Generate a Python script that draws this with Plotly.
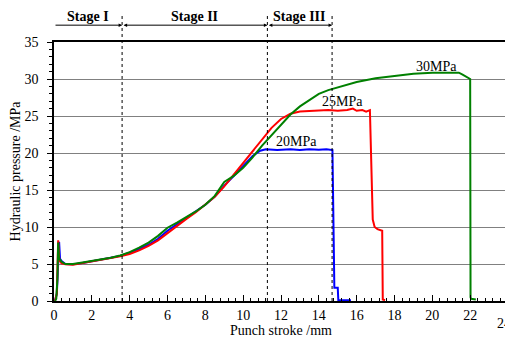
import plotly.graph_objects as go

# ---- data ----
x_20 = [0.05, 0.15, 0.22, 0.27, 0.32, 0.40, 0.60, 1.0, 1.5, 2.0, 2.5, 3.0, 3.5, 4.0, 4.5, 5.0,
        5.5, 6.0, 6.5, 7.0, 7.5, 8.0, 8.5, 9.0, 9.5, 10.0, 10.5, 10.9, 11.2, 11.8, 12.5, 13.0,
        13.5, 14.0, 14.4, 14.72, 14.78, 14.82, 15.0, 15.03, 15.7]
y_20 = [0.0, 1.0, 5.0, 8.0, 5.7, 5.4, 5.0, 4.95, 5.15, 5.35, 5.55, 5.85, 6.1, 6.5, 7.0, 7.6,
        8.4, 9.5, 10.4, 11.2, 12.1, 13.0, 14.1, 15.6, 16.9, 18.3, 19.6, 20.3, 20.5, 20.4, 20.5, 20.4,
        20.5, 20.45, 20.5, 20.4, 10.0, 1.8, 1.8, 0.1, 0.1]

x_25 = [0.05, 0.15, 0.22, 0.28, 0.40, 0.60, 1.0, 1.5, 2.0, 2.5, 3.0, 3.5, 4.0, 4.5, 5.0,
        5.5, 6.0, 6.5, 7.0, 7.5, 8.0, 8.5, 9.0, 9.5, 10.0, 10.5, 11.0, 11.5, 12.0, 12.5, 13.0,
        13.5, 14.0, 14.5, 15.0, 15.5, 15.8, 16.0, 16.3, 16.5, 16.7, 16.75, 16.85, 16.95, 17.1,
        17.35, 17.38, 17.5]
y_25 = [0.0, 1.0, 8.2, 5.5, 5.1, 4.95, 4.9, 5.1, 5.3, 5.5, 5.8, 6.05, 6.35, 6.85, 7.45,
        8.2, 9.2, 10.2, 11.1, 12.0, 13.0, 14.1, 15.5, 17.1, 18.6, 20.2, 21.9, 23.4, 24.6, 25.3, 25.6,
        25.7, 25.7, 25.8, 25.7, 25.8, 26.0, 25.7, 25.8, 25.6, 25.8, 20.0, 11.0, 10.0, 9.7,
        9.5, 0.2, 0.1]

x_30 = [0.05, 0.12, 0.18, 0.22, 0.26, 0.32, 0.40, 0.60, 1.0, 1.5, 2.0, 2.5, 3.0, 3.5, 4.0, 4.5,
        5.0, 5.5, 6.0, 6.5, 7.0, 7.5, 8.0, 8.5, 9.0, 9.5, 10.0, 10.5, 11.0, 11.5, 12.0, 12.5,
        13.0, 13.5, 14.0, 14.5, 15.0, 15.5, 16.0, 17.0, 18.0, 19.0, 20.0, 21.0, 21.4, 21.6,
        22.0, 22.02, 22.05, 22.3]
y_30 = [0.0, 0.3, 3.0, 7.9, 5.8, 5.5, 5.3, 5.0, 5.0, 5.2, 5.4, 5.6, 5.85, 6.15, 6.6, 7.2,
        7.9, 8.8, 9.9, 10.6, 11.3, 12.1, 13.0, 14.2, 16.1, 16.9, 18.0, 19.4, 21.0, 22.4, 23.7, 25.2,
        26.3, 27.2, 28.0, 28.5, 28.9, 29.3, 29.6, 30.1, 30.4, 30.7, 30.85, 30.9, 30.85, 30.6,
        30.0, 0.5, 0.3, 0.2]

series_names = ["20MPa", "25MPa", "30MPa"]
series_colors = ["#0000ff", "#ff0000", "#008000"]
label_x = [12.83, 15.24, 20.24]
label_y = [21.6, 26.9, 31.7]

stage_names = ["Stage I", "Stage II", "Stage III"]
stage_bounds = [0.0, 3.6, 11.28, 14.7]

x_ticks = list(range(0, 25, 2))
x_tick_labels = ["0", "2", "4", "6", "8", "10", "12", "14", "16", "18", "20", "22", "24"]
y_ticks = list(range(0, 36, 5))

FONT = "Liberation Serif"

fig = go.Figure()
for xs, ys, name, col in zip([x_20, x_25, x_30], [y_20, y_25, y_30], series_names, series_colors):
    fig.add_trace(go.Scatter(x=xs, y=ys, mode="lines", name=name,
                             line=dict(color=col, width=2), showlegend=False))

# series labels
for name, lx, ly in zip(series_names, label_x, label_y):
    fig.add_annotation(x=lx, y=ly, text=name, showarrow=False,
                       font=dict(family=FONT, size=14, color="black"))

# dashed stage boundaries
for b in stage_bounds[1:]:
    fig.add_shape(type="line", xref="x", yref="paper", x0=b, x1=b, y0=0, y1=1.112,
                  line=dict(color="black", width=1, dash="dot"))

# stage arrows and labels
arrow_y = 1.065
sides = ["end", "end+start", "end+start"]
for i, name in enumerate(stage_names):
    a, b = stage_bounds[i], stage_bounds[i + 1]
    fig.add_annotation(x=b, y=arrow_y, xref="x", yref="paper", ax=a, ay=0,
                       axref="x", ayref="pixel", text="", showarrow=True,
                       arrowhead=2, arrowsize=0.7, arrowwidth=1, arrowcolor="black",
                       arrowside=sides[i], startarrowhead=2, startarrowsize=0.7,
                       standoff=0, startstandoff=0)
    fig.add_annotation(x=(a + b) / 2, y=1.062, xref="x", yref="paper", yanchor="bottom",
                       text="<b>%s</b>" % name, showarrow=False,
                       font=dict(family=FONT, size=14, color="black"))

# the last x tick label sits on the page edge: draw it as an annotation kept inside the figure
tick_text = x_tick_labels[:-1] + [""]
fig.add_annotation(x=x_ticks[-1], y=0, xref="x", yref="paper", xanchor="right", yanchor="middle",
                   xshift=5, yshift=-22, text=x_tick_labels[-1], showarrow=False,
                   font=dict(family=FONT, size=14, color="black"))

# page body has an 8px default margin: size the figure so the plot lands where the reference has it
fig.update_layout(
    width=505, height=336,
    margin=dict(l=46, r=5, t=34, b=43, autoexpand=False),
    paper_bgcolor="white", plot_bgcolor="white",
    font=dict(family=FONT, size=14, color="black"),
)
fig.update_xaxes(range=[0, 24], tickvals=x_ticks, ticktext=tick_text, showgrid=False, zeroline=False,
                 automargin=False,
                 showline=True, linecolor="black", linewidth=1.5, mirror=True,
                 ticks="inside", ticklen=6, tickcolor="black", tickwidth=1,
                 minor=dict(dtick=0.4, ticks="inside", ticklen=3, tickcolor="black"),
                 title=dict(text="Punch stroke /mm", font=dict(family=FONT, size=14), standoff=2),
                 tickfont=dict(family=FONT, size=14))
fig.update_yaxes(range=[0, 35], tickvals=y_ticks, showgrid=True, gridcolor="#808080", gridwidth=1.3,
                 zeroline=False, showline=True, linecolor="black", linewidth=1.5, mirror=True,
                 automargin=False,
                 ticks="outside", ticklen=5, tickcolor="black", tickwidth=1, ticklabelstandoff=6,
                 minor=dict(dtick=1, ticks="outside", ticklen=3, tickcolor="black"),
                 title=dict(text="Hydraulic pressure /MPa", font=dict(family=FONT, size=14), standoff=4),
                 tickfont=dict(family=FONT, size=14))

fig.write_html("out.html")
